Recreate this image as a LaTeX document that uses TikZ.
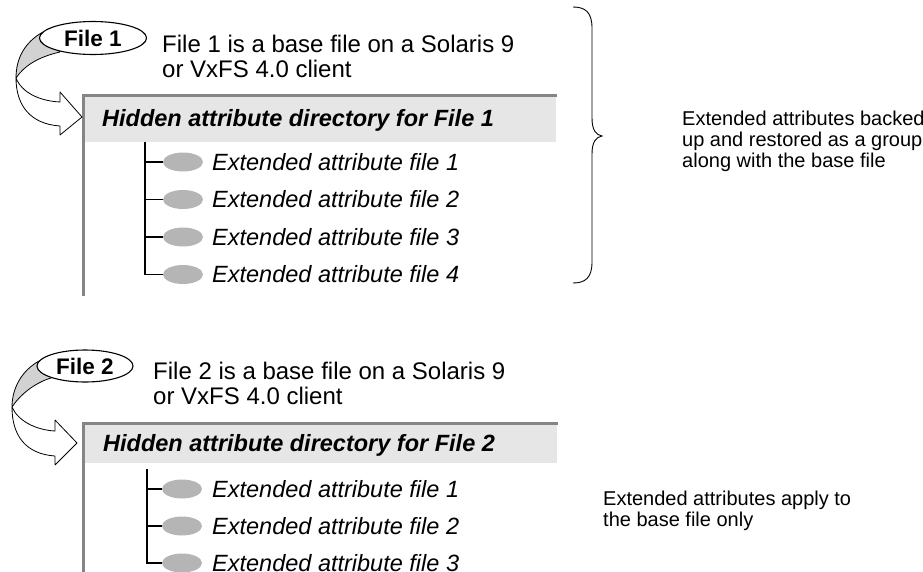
\documentclass[tikz,border=0pt]{standalone}
\usepackage{fontspec}
\setmainfont{Liberation Sans}
\usetikzlibrary{shapes.geometric}
\definecolor{hdrfill}{HTML}{E6E6E6}
\definecolor{bordergray}{HTML}{858585}
\definecolor{leafgray}{HTML}{B5B5B5}
\definecolor{ribbongray}{HTML}{D2D2D2}
\newcommand\fsz[2]{\fontsize{#1}{#2}\selectfont}
\tikzset{
  filetag/.style={ellipse, draw=black, line width=1.1pt, fill=white, inner sep=0pt, font=\fsz{22.5}{26}\bfseries},
  hdrtext/.style={anchor=base west, inner sep=0pt, font=\fsz{23.5}{26}\bfseries\itshape},
  itemtext/.style={anchor=base west, inner sep=0pt, font=\fsz{23.5}{26}\itshape},
  desctext/.style={anchor=north west, inner sep=0pt, align=left, font=\fsz{24}{25}},
  notetext/.style={anchor=north west, inner sep=0pt, align=left, font=\fsz{20}{21}},
  leafoval/.style={ellipse, fill=leafgray, inner sep=0pt, minimum width=40pt, minimum height=19pt},
  treeline/.style={line width=1.6pt, black},
  boxframe/.style={draw=bordergray, line width=3pt},
  ribbonfront/.style={draw=black, fill=white, line width=0.8pt, line join=round},
  ribbonback/.style={draw=black, fill=ribbongray, line width=0.8pt, line join=round},
  bracestyle/.style={draw=black, line width=0.9pt}
}
\begin{document}
\begin{tikzpicture}[x=1pt,y=-1pt]
\useasboundingbox (0,0) rectangle (923,571);

% ---------------- Group 1 ----------------
\fill[hdrfill] (83,95) rectangle (556,142);
\draw[boxframe] (557,95) -- (83,95) -- (83,296);
\node[hdrtext] (h1) at (102,126.5) {Hidden attribute directory for File 1};

% ribbon arrow 1
\draw[ribbonback] (43,32) .. controls (25,42) and (16,58) .. (16,78)
   .. controls (24,66) and (38,57) .. (60,52) -- cycle;
\draw[ribbonfront] (16,78) .. controls (22,93) and (40,101) .. (60,102)
   -- (60,92) -- (82,117) -- (60,135) -- (60,126)
   .. controls (30,124) and (16,105) .. (16,78) -- cycle;
\node[filetag, minimum width=107pt, minimum height=33pt] (f1) at (93,38) {File 1};
\node[desctext] (d1) at (162,34.7) {File 1 is a base file on a Solaris 9\\or VxFS 4.0 client};

% tree 1
\coordinate (t1) at (145,142);
\node[leafoval] (l11) at (183,162) {};
\node[leafoval] (l12) at (183,199.5) {};
\node[leafoval] (l13) at (183,237) {};
\node[leafoval] (l14) at (183,274.5) {};
\draw[treeline] (t1) |- (l14.west);
\draw[treeline] (t1 |- l11) -- (l11.west);
\draw[treeline] (t1 |- l12) -- (l12.west);
\draw[treeline] (t1 |- l13) -- (l13.west);
\node[itemtext] (e11) at (212,170.4) {Extended attribute file 1};
\node[itemtext] (e12) at (212,207.9) {Extended attribute file 2};
\node[itemtext] (e13) at (212,245.4) {Extended attribute file 3};
\node[itemtext] (e14) at (212,282.9) {Extended attribute file 4};

% brace
\draw[bracestyle] (573,7) .. controls (585,7) and (592,12) .. (592,28)
   -- (592,118) .. controls (592,130) and (596,135) .. (602,136)
   .. controls (596,137) and (592,142) .. (592,154)
   -- (592,262) .. controls (592,278) and (585,283) .. (573,283);
\node[notetext] (n1) at (682,110.7) {Extended attributes backed\\up and restored as a group\\along with the base file};

% ---------------- Group 2 ----------------
\fill[hdrfill] (83,423) rectangle (557,463);
\draw[boxframe] (558,423) -- (83,423) -- (83,575);
\node[hdrtext] (h2) at (103,451.5) {Hidden attribute directory for File 2};

% ribbon arrow 2
\draw[ribbonback] (40,360.5) .. controls (22,370) and (12,388) .. (12,407)
   .. controls (20,395) and (34,383) .. (52,377.6) -- cycle;
\draw[ribbonfront] (12,407) .. controls (18,421) and (36,430) .. (55,431)
   -- (55,420) -- (77,443) -- (55,465) -- (55,456)
   .. controls (26,454) and (12,436) .. (12,407) -- cycle;
\node[filetag, minimum width=96pt, minimum height=32pt] (f2) at (85,366) {File 2};
\node[desctext] (d2) at (153,361.7) {File 2 is a base file on a Solaris 9\\or VxFS 4.0 client};

% tree 2
\coordinate (t2) at (147,469);
\node[leafoval] (l21) at (182,489) {};
\node[leafoval] (l22) at (182,526) {};
\node[leafoval] (l23) at (182,563) {};
\draw[treeline] (t2) |- (l23.west);
\draw[treeline] (t2 |- l21) -- (l21.west);
\draw[treeline] (t2 |- l22) -- (l22.west);
\node[itemtext] (e21) at (212,497.4) {Extended attribute file 1};
\node[itemtext] (e22) at (212,534.4) {Extended attribute file 2};
\node[itemtext] (e23) at (212,571.4) {Extended attribute file 3};

\node[notetext] (n2) at (603,490.7) {Extended attributes apply to\\the base file only};
\end{tikzpicture}
\end{document}
